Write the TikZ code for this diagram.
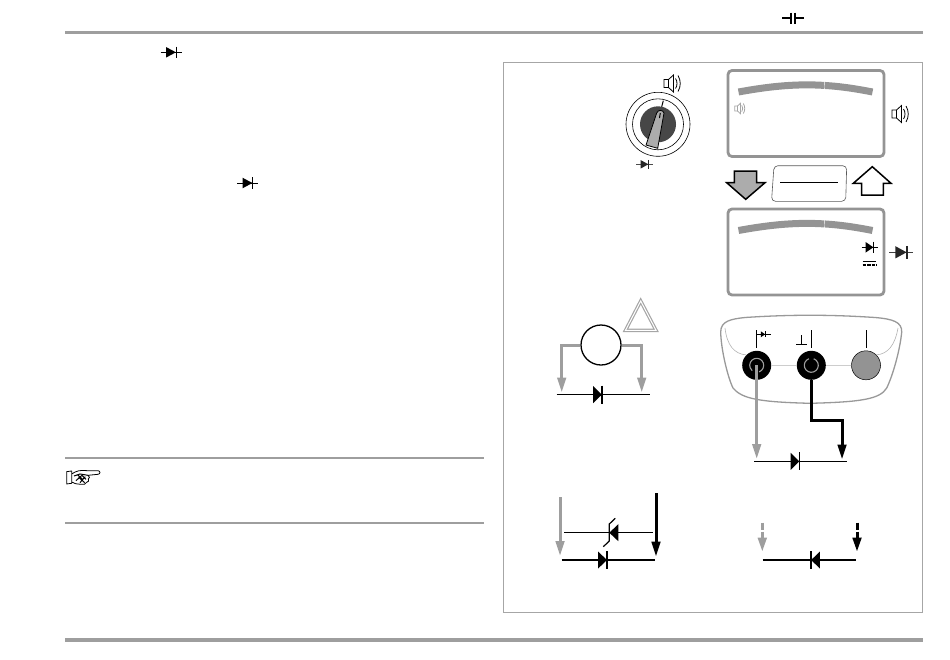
\documentclass[tikz,border=0pt]{standalone}
\usepackage{xcolor}
\usetikzlibrary{arrows.meta, calc, positioning}
\definecolor{rulegray}{gray}{0.62}
\definecolor{leadgray}{gray}{0.62}
\definecolor{scalegray}{gray}{0.58}
\tikzset{
    rule/.style={draw=rulegray, line width=2pt},
    display/.style={draw=scalegray, line width=2.8pt, rounded corners=4pt},
    scalearc/.style={draw=scalegray, line width=7pt},
    wire/.style={draw=black, line width=1.5pt},
    greylead/.style={draw=leadgray, line width=3pt, -{Triangle[length=15pt,width=8.5pt]}},
    blacklead/.style={draw=black, line width=3pt, -{Triangle[length=15pt,width=8.5pt]}},
    jack/.style={circle, fill=black, minimum size=29pt, inner sep=0pt},
    pics/diode/.style={code={
        \fill (-4.3,-8.5) -- (4.3,0) -- (-4.3,8.5) -- cycle;
        \draw[line width=1.3pt] (4.5,-9) -- (4.5,9);
    }},
    pics/speaker/.style={code={
        \draw[line width=0.8pt]
        (-7,-4) -- (-2.5,-4) -- (-2.5,4) -- (-7,4) -- cycle
        (-2.5,-4) -- (2.5,-8.5) -- (2.5,8.5) -- (-2.5,4)
        (4.5,-5) .. controls (6.5,-2) and (6.5,2) .. (4.5,5)
        (7,-8) .. controls (10,-3) and (10,3) .. (7,8);
    }}
}

\begin{document}
\begin{tikzpicture}[x=1pt, y=-1pt]
    \useasboundingbox (0, 0) rectangle (950, 659);
    % page rules
    \draw[rule, line width=3.2pt] (65, 32.5) -- (923, 32.5);
    \draw[rule, line width=3.2pt] (65, 640) -- (923, 640);
    \draw[rule] (65, 458) -- (484, 458) (65, 523) -- (484, 523);
    \draw[gray!70, line width=0.7pt] (503, 62) rectangle (922, 612);
    % pointing hand
    \begin{scope}[shift={(60, 450)}, x=0.333pt, y=-0.333pt]
        \draw[line width=0.8pt, line join=round]
        (20, 65) -- (35, 63) -- (35, 100) -- (20, 102) -- cycle
        (35, 72) .. controls (50, 62) and (62, 60) .. (80, 62)
        -- (114, 62) .. controls (122, 63) and (122, 72) .. (114, 73)
        -- (84, 76) .. controls (90, 80) and (90, 85) .. (85, 87)
        .. controls (88, 92) and (86, 96) .. (80, 97)
        .. controls (78, 103) and (70, 105) .. (62, 103)
        .. controls (52, 104) and (42, 100) .. (35, 96);
        \draw[line width=1pt]
        (42, 78) -- (60, 72) -- (84, 76)
        (48, 92) -- (66, 76) -- (78, 88)
        (56, 82) -- (74, 98)
        (60, 98) -- (76, 80)
        (52, 74) -- (68, 88);
    \end{scope}
    % symbols in the text
    \pic[xscale=1.15, yscale=0.62] at (171, 52.3) {diode};
    \pic[xscale=1.15, yscale=0.62] at (247.5, 183) {diode};
    \draw[line width=1pt] (160.5, 52.3) -- (181.5, 52.3) (237, 183) -- (258, 183);
    \draw[line width=1.1pt]
    (782, 18) -- (791, 18) (795, 18) -- (804, 18)
    (791, 12.5) -- (791, 23.5) (795, 12.5) -- (795, 23.5);
    % rotary switch
    \pic at (671, 83.5) {speaker};
    \draw[line width=0.6pt]
    (658, 124.3) circle (32)
    (658, 124.3) circle (25.5);
    \fill[black!72] (658, 124.3) circle (18);
    \draw[line width=1pt] (663.3, 100.7) -- (661.7, 106.7);
    \draw[fill=gray!65, line width=0.8pt]
    (646, 145) -- (656.7, 113) .. controls (658, 109.5) and (663, 109.5) .. (664, 113)
    -- (657.7, 148.3) -- cycle;
    \draw[line width=1pt] (660.3, 113) -- (659.5, 118);
    \draw[gray!60!black, line width=0.7pt] (636, 164.3) -- (653, 164.3);
    \pic[xscale=0.9, yscale=0.5, gray!30!black] at (644.5, 164.3) {diode};
    % upper display
    \draw[display] (728, 70.5) rectangle (884, 156.5);
    \draw[scalearc] (738.5, 92) .. controls (790, 82.5) and (825, 82.5) .. (872.5, 92);
    \draw[white, line width=0.4pt] (824.3, 81) -- (824.6, 90);
    \pic[scale=0.62, gray!70] at (739, 108.5) {speaker};
    \pic at (899, 114) {speaker};
    % mode arrows and key
    \draw[fill=gray!65, line width=1.5pt, line join=miter]
    (734.3, 171) -- (756.7, 171) -- (756.7, 182.7) -- (765, 182.7) -- (745.7, 199.3)
    -- (726.7, 182.7) -- (734.3, 182.7) -- cycle;
    \draw[fill=white, line width=1.5pt, line join=miter]
    (861.7, 195) -- (883.3, 195) -- (883.3, 183.3) -- (891, 183.3) -- (872.3, 166.7)
    -- (853.3, 183.3) -- (861.7, 183.3) -- cycle;
    \draw[gray!70!black, line width=0.6pt, rounded corners=4pt]
    (774, 165.7) -- (846.7, 165.7) -- (845.7, 201.3) -- (771.5, 201.3) -- cycle;
    \draw[line width=1.5pt] (780, 182.7) -- (838, 182.7);
    % lower display
    \draw[display] (728, 209) rectangle (884, 295);
    \draw[scalearc] (738.5, 230.5) .. controls (790, 221) and (825, 221) .. (872.5, 230.5);
    \draw[white, line width=0.4pt] (824.3, 219.5) -- (824.6, 228.5);
    \draw[line width=1.1pt] (861.7, 247.3) -- (878.3, 247.3);
    \pic[xscale=0.9, yscale=0.62] at (869.5, 247.3) {diode};
    \draw[line width=1.2pt] (862.7, 261.7) -- (876, 261.7);
    \draw[line width=1.2pt, dash pattern=on 3.4pt off 1pt] (862.7, 265) -- (876, 265);
    \draw[gray!50!black, line width=0.7pt] (889, 252.3) -- (913, 252.3);
    \pic[xscale=1.3, yscale=0.72, gray!30!black] at (901, 252.3) {diode};
    % meter with test leads
    \draw[gray!70, line width=3.4pt, line join=miter] (640.7, 301) -- (656, 330.3) -- (625.5, 330.3) -- cycle;
    \draw[white, line width=1pt, line join=miter] (640.7, 301) -- (656, 330.3) -- (625.5, 330.3) -- cycle;
    \node[circle, draw, line width=1.3pt, fill=white, minimum size=40pt, inner sep=0pt] (meter) at (601, 345) {};
    \coordinate (meterleft) at (561.7, 392.5);
    \coordinate (meterright) at (641.7, 392.5);
    \draw[greylead] (meter.west) -| (meterleft);
    \draw[greylead] (meter.east) -| (meterright);
    \draw[wire] (556.7, 394.7) -- (650, 394.7);
    \pic at (597.5, 394.7) {diode};
    % instrument front with jacks
    \draw[gray!80, line width=1.3pt]
    (720.7, 332) .. controls (720.7, 321) and (731, 319) .. (745, 317.5)
    .. controls (790, 314.5) and (830, 314.5) .. (875, 317.5)
    .. controls (893, 319) and (902, 322) .. (901.7, 332)
    .. controls (900, 350) and (893, 375) .. (886.7, 388)
    .. controls (880, 399) and (862, 402) .. (810, 403.3)
    .. controls (760, 402) and (742, 399) .. (733, 388)
    .. controls (728, 378) and (721, 350) .. (720.7, 332) -- cycle;
    \node[jack] (jackdiode) at (756.7, 365.3) {};
    \node[jack] (jackcom) at (811.3, 365.3) {};
    \node[jack, fill=gray!85, draw=black, line width=0.5pt] (jackspare) at (866, 365.3) {};
    \draw[gray!60, line width=0.6pt]
    (725, 328) .. controls (727, 345) and (734, 354) .. (jackdiode.north west)
    (jackdiode.east) -- (jackcom.west)
    (jackcom.east) -- (jackspare.west)
    (jackspare.north east) .. controls (888, 354) and (895, 345) .. (898, 328);
    \draw[gray!75, line width=1.1pt]
    (jackdiode) ++(70:7) arc (70:-230:7)
    (jackcom) ++(250:7) arc (250:-70:7);
    \draw[line width=0.9pt]
    (756.3, 330) -- (756.3, 347.7)
    (811.3, 330) -- (811.3, 347.7)
    (866, 330) -- (866, 347.7)
    (796, 344.3) -- (806.7, 344.3)
    (801.7, 335) -- (801.7, 344.3)
    (756.3, 334.3) -- (770.5, 334.3);
    \pic[xscale=0.5, yscale=0.35] at (763, 334.3) {diode};
    \coordinate (diodeleft) at (756.7, 459);
    \coordinate (diodebend) at (842, 420.7);
    \coordinate (dioderight) at (842, 459.5);
    \draw[greylead] (jackdiode.center) -- (diodeleft);
    \draw[blacklead, line join=miter] (jackcom.south) |- (diodebend) -- (dioderight);
    \draw[wire] (754.3, 461.3) -- (847.3, 461.3);
    \pic at (795, 461.3) {diode};
    % zener test
    \coordinate (zenerleft) at (560, 497.3);
    \coordinate (zenerleftend) at (560, 556);
    \coordinate (zenerright) at (656, 493.3);
    \coordinate (zenerrightend) at (656, 556.7);
    \draw[greylead] (zenerleft) -- (zenerleftend);
    \draw[blacklead] (zenerright) -- (zenerrightend);
    \draw[wire] (564, 532.7) -- (652.7, 532.7);
    \fill (618.3, 524.2) -- (609.3, 532.7) -- (618.3, 541.2) -- cycle;
    \draw[line width=1.2pt] (615.3, 518.3) -- (609.3, 524) -- (609.3, 541) -- (603.3, 546.7);
    \draw[wire] (561.7, 560) -- (655, 560);
    \pic at (602.5, 560) {diode};
    % reverse polarity
    \coordinate (reverseleft) at (762.3, 522.7);
    \coordinate (reverseleftend) at (762.3, 551.7);
    \coordinate (reverseright) at (857, 522.7);
    \coordinate (reverserightend) at (857, 551.7);
    \draw[greylead, dash pattern=on 7pt off 1.8pt, -{Triangle[length=14pt,width=8.5pt]}] (reverseleft) -- (reverseleftend);
    \draw[blacklead, dash pattern=on 7pt off 1.8pt, -{Triangle[length=14pt,width=8.5pt]}] (reverseright) -- (reverserightend);
    \draw[wire] (762.7, 560) -- (856, 560);
    \pic[xscale=-1] at (815.5, 560) {diode};
\end{tikzpicture}
\end{document}
